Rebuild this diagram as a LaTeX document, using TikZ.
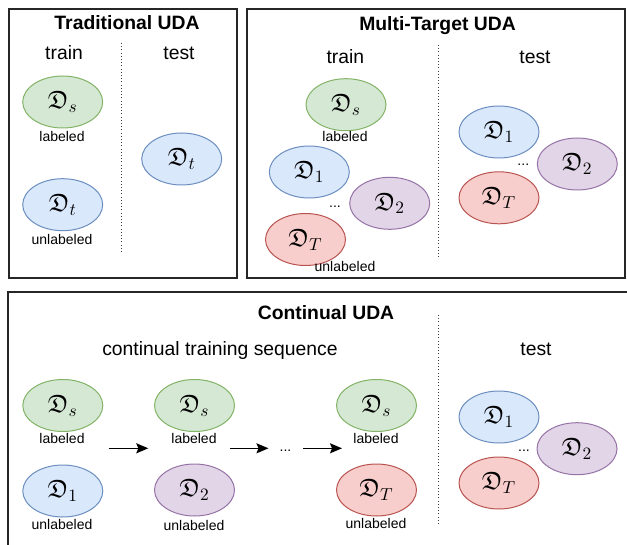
\documentclass[tikz,border=0pt]{standalone}
\usepackage{fontspec}
\setmainfont{Liberation Sans}
\usepackage{amssymb}
\usetikzlibrary{arrows.meta,shapes.geometric}
\definecolor{gfill}{HTML}{D5E8D4}\definecolor{gdraw}{HTML}{82B366}
\definecolor{bfill}{HTML}{DAE8FC}\definecolor{bdraw}{HTML}{6C8EBF}
\definecolor{pfill}{HTML}{E1D5E7}\definecolor{pdraw}{HTML}{9673A6}
\definecolor{rfill}{HTML}{F8CECC}\definecolor{rdraw}{HTML}{B85450}
\newcommand{\dlab}[1]{\scalebox{1.3}{$\mathfrak{D}_{#1}$}}
\tikzset{
  dom/.style={ellipse, minimum width=60pt, minimum height=39pt, inner sep=0pt, line width=0.75pt, font=\fontsize{14.4}{16}\selectfont},
  dgreen/.style={dom, draw=gdraw, fill=gfill},
  dblue/.style={dom, draw=bdraw, fill=bfill},
  dpurple/.style={dom, draw=pdraw, fill=pfill},
  dred/.style={dom, draw=rdraw, fill=rfill},
  boxline/.style={draw=black!85, line width=1pt},
  ttl/.style={font=\fontsize{14.5}{17}\selectfont\bfseries, anchor=base, inner sep=0pt},
  head/.style={font=\fontsize{14.5}{17}\selectfont, anchor=base, inner sep=0pt},
  small/.style={font=\fontsize{10.5}{12}\selectfont, anchor=base, inner sep=0pt},
  sep/.style={draw=black!75, line width=0.8pt, dash pattern=on 0.8pt off 1.6pt},
  flow/.style={line width=1.1pt, -{Stealth[length=9pt, width=7.5pt, inset=1.5pt]}}
}
\begin{document}
\begin{tikzpicture}[x=0.75pt, y=-0.75pt]
\useasboundingbox (0,0) rectangle (627,545);
\clip (0,0) rectangle (627,545);

% ---------- Traditional UDA ----------
\draw[boxline] (9,9) rectangle (237,278);
\node[ttl] (t-title) at (127,29.3) {Traditional UDA};
\node[head] (t-train) at (64,59.3) {train};
\node[head] (t-test) at (179,59.3) {test};
\draw[sep] (121.7,43) -- (121.7,253);
\node[dgreen] (t-ds) at (62.7,102) {\dlab{s}};
\node[small] (t-lab) at (62,141.7) {labeled};
\node[dblue] (t-dt) at (62.7,204.7) {\dlab{t}};
\node[small] (t-unlab) at (62,244) {unlabeled};
\node[dblue] (t-dtt) at (181.7,159) {\dlab{t}};

% ---------- Multi-Target UDA ----------
\draw[boxline] (247,9) rectangle (625,278);
\node[ttl] (m-title) at (437.5,30.7) {Multi-Target UDA};
\node[head] (m-train) at (345.3,63.3) {train};
\node[head] (m-test) at (535,63.3) {test};
\draw[sep] (438.3,45) -- (438.3,257);
\node[dgreen] (m-ds) at (346,104.7) {\dlab{s}};
\node[small] (m-lab) at (345,141.7) {labeled};
\node[dblue] (m-d1) at (309.3,172) {\dlab{1}};
\node[dpurple] (m-d2) at (389.7,203.3) {\dlab{2}};
\node[dred] (m-dT) at (305.5,239.5) {\dlab{T}};
\node[small] (m-dots) at (335,207.3) {...};
\node[small] (m-unlab) at (345,271.7) {unlabeled};
\node[dblue] (m-td1) at (499,132) {\dlab{1}};
\node[dpurple] (m-td2) at (577.3,164) {\dlab{2}};
\node[dred] (m-tdT) at (499,197.8) {\dlab{T}};
\node[small] (m-tdots) at (523.3,165.7) {...};

% ---------- Continual UDA ----------
\draw[boxline] (8,560) -- (8,292) -- (640,292);
\node[ttl] (c-title) at (326,319.3) {Continual UDA};
\node[head] (c-seq) at (220,355) {continual training sequence};
\node[head] (c-test) at (536,355) {test};
\draw[sep] (438.8,315) -- (438.8,525);

\node[dgreen] (c-ds1) at (62.8,405.5) {\dlab{s}};
\node[small] (c-lab1) at (62,443.3) {labeled};
\node[dblue] (c-d1) at (62.8,491) {\dlab{1}};
\node[small] (c-unlab1) at (62,529) {unlabeled};

\node[dgreen] (c-ds2) at (194.5,405.5) {\dlab{s}};
\node[small] (c-lab2) at (194,443.3) {labeled};
\node[dpurple] (c-d2) at (194.5,490) {\dlab{2}};
\node[small] (c-unlab2) at (194,530.5) {unlabeled};

\node[dgreen] (c-ds3) at (376.5,405.5) {\dlab{s}};
\node[small] (c-lab3) at (376,443.3) {labeled};
\node[dred] (c-dT) at (376.5,490) {\dlab{T}};
\node[small] (c-unlab3) at (376,528.3) {unlabeled};

\coordinate (a1s) at (108.5,448.3);
\coordinate (a1e) at (148.3,448.3);
\coordinate (a2s) at (230,448.3);
\coordinate (a2e) at (268.5,448.3);
\coordinate (a3s) at (302.8,448.3);
\coordinate (a3e) at (342,448.3);
\draw[flow] (a1s) -- (a1e);
\draw[flow] (a2s) -- (a2e);
\draw[flow] (a3s) -- (a3e);
\node[small] (c-dots) at (285.5,451) {...};

\node[dblue] (c-td1) at (499,417) {\dlab{1}};
\node[dpurple] (c-td2) at (577,448.7) {\dlab{2}};
\node[dred] (c-tdT) at (499,483) {\dlab{T}};
\node[small] (c-tdots) at (524,451.7) {...};
\end{tikzpicture}
\end{document}
